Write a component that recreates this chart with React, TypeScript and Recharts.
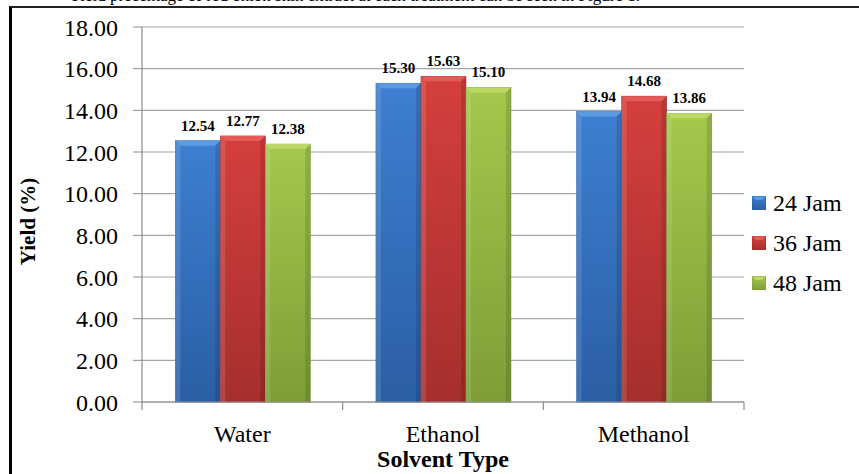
import React from 'react';
import { BarChart, Bar, XAxis, YAxis, CartesianGrid, Legend, LabelList } from 'recharts';

const solvents = ['Water', 'Ethanol', 'Methanol'];
const jam24 = [12.54, 15.3, 13.94];
const jam36 = [12.77, 15.63, 14.68];
const jam48 = [12.38, 15.1, 13.86];
const seriesNames = ['24 Jam', '36 Jam', '48 Jam'];
const yTicks = [0, 2, 4, 6, 8, 10, 12, 14, 16, 18];

const tones = [
  { light: '#5c9ae2', base: '#3d7fd1', dark: '#2b5ea4' }, // blue
  { light: '#e45a57', base: '#d43f3d', dark: '#a52f2d' }, // red
  { light: '#bbd866', base: '#a4c84c', dark: '#7d9e37' }, // green
];

const serif = '"Liberation Serif", "Times New Roman", serif';
const X_TICK_SIZE = 6;
const X_TICK_MARGIN = 17;

const data = solvents.map((name, i) => ({
  name,
  j24: jam24[i],
  j36: jam36[i],
  j48: jam48[i],
}));

function BevelBar(props: any) {
  const { x, y, width, height, tone, gid } = props;
  if (!width || !height) return null;
  const b = Math.min(5, width / 4);
  return (
    <g>
      <rect x={x} y={y} width={width} height={height} fill={`url(#${gid})`} stroke={tone.dark} strokeWidth={0.6} />
      <polygon
        points={`${x},${y} ${x + width},${y} ${x + width - b},${y + b} ${x + b},${y + b}`}
        fill={tone.light}
      />
      <polygon
        points={`${x},${y} ${x + b},${y + b} ${x + b},${y + height} ${x},${y + height}`}
        fill="#ffffff"
        fillOpacity={0.12}
      />
      <polygon
        points={`${x + width},${y} ${x + width - b},${y + b} ${x + width - b},${y + height} ${x + width},${y + height}`}
        fill="#000000"
        fillOpacity={0.12}
      />
    </g>
  );
}

const shapeFor = (i: number) => (p: any) => <BevelBar {...p} tone={tones[i]} gid={`bar-grad-${i}`} />;

// category label plus the divider ticks at the band edges
function SolventTick(props: any) {
  const { x, y, payload, index, visibleTicksCount } = props;
  const half = payload?.offset ?? 0;
  const axisY = y - X_TICK_SIZE - X_TICK_MARGIN;
  const last = index === visibleTicksCount - 1;
  return (
    <g>
      <line x1={x - half} x2={x - half} y1={axisY} y2={axisY + 8} stroke="#8c8c8c" strokeWidth={1.2} />
      {last && <line x1={x + half} x2={x + half} y1={axisY} y2={axisY + 8} stroke="#8c8c8c" strokeWidth={1.2} />}
      <text x={x} y={y} dy="0.71em" textAnchor="middle" fontSize={24} fill="#000">
        {payload.value}
      </text>
    </g>
  );
}

function LegendBox({ payload }: any) {
  return (
    <div style={{ fontFamily: serif }}>
      {(payload || []).map((item: any, i: number) => (
        <div key={item.value} style={{ display: 'flex', alignItems: 'center', height: 40 }}>
          <svg width={14} height={14} style={{ marginRight: 7 }}>
            <rect x={0} y={0} width={14} height={14} fill={`url(#bar-grad-${i})`} />
            <polygon points="0,0 14,0 10,4 4,4" fill={tones[i].light} />
            <rect x={0} y={0} width={14} height={14} fill="none" stroke={tones[i].dark} strokeWidth={0.6} />
          </svg>
          <span style={{ fontSize: 24, color: '#000' }}>{item.value}</span>
        </div>
      ))}
    </div>
  );
}

export default function App() {
  return (
    <div
      style={{
        position: 'absolute',
        left: 0,
        top: 0,
        width: 859,
        height: 474,
        overflow: 'hidden',
        background: '#fff',
        fontFamily: serif,
      }}
    >
      <div
        style={{
          position: 'absolute',
          right: 219,
          top: -14,
          fontSize: 17,
          lineHeight: '20px',
          whiteSpace: 'nowrap',
          color: '#000',
        }}
      >
        Yield precentage of red onion skin extract at each treatment can be seen in Figure 1.
      </div>
      <div
        style={{
          position: 'absolute',
          left: 9,
          top: 6,
          width: 900,
          height: 500,
          borderLeft: '3px solid #000',
          borderTop: '2px solid #222',
        }}
      />
      <div style={{ position: 'absolute', left: 0, top: 0 }}>
        <BarChart
          width={859}
          height={474}
          data={data}
          margin={{ top: 27, right: 10, left: 12, bottom: 0 }}
          barCategoryGap="16.6%"
          barGap={0}
        >
          <defs>
            {tones.map((t, i) => (
              <linearGradient key={i} id={`bar-grad-${i}`} x1="0" y1="0" x2="0" y2="1">
                <stop offset="0%" stopColor={t.base} />
                <stop offset="100%" stopColor={t.dark} />
              </linearGradient>
            ))}
          </defs>
          <CartesianGrid vertical={false} stroke="#a6a6a6" strokeWidth={1.2} />
          <XAxis
            dataKey="name"
            tickLine={false}
            tickSize={X_TICK_SIZE}
            tickMargin={X_TICK_MARGIN}
            axisLine={{ stroke: '#8c8c8c', strokeWidth: 1.2 }}
            tick={<SolventTick />}
            interval={0}
            height={72}
            label={{
              content: ({ viewBox }: any) => (
                <text
                  x={viewBox.x + viewBox.width / 2}
                  y={viewBox.y + 65}
                  textAnchor="middle"
                  fontSize={24}
                  fontWeight="bold"
                  fill="#000"
                >
                  Solvent Type
                </text>
              ),
            }}
          />
          <YAxis
            domain={[0, 18]}
            ticks={yTicks}
            tickFormatter={(v: number) => v.toFixed(2)}
            width={130}
            tickSize={9}
            tickMargin={15}
            tick={{ fontSize: 24, fill: '#000' }}
            axisLine={{ stroke: '#8c8c8c', strokeWidth: 1.2 }}
            tickLine={{ stroke: '#8c8c8c' }}
            label={{
              content: ({ viewBox }: any) => {
                const cx = viewBox.x + 16;
                const cy = viewBox.y + viewBox.height / 2 + 7;
                return (
                  <text
                    x={cx}
                    y={cy}
                    transform={`rotate(-90, ${cx}, ${cy})`}
                    textAnchor="middle"
                    dominantBaseline="central"
                    fontSize={21}
                    fontWeight="bold"
                    fill="#000"
                  >
                    Yield (%)
                  </text>
                );
              },
            }}
          />
          <Legend
            layout="horizontal"
            verticalAlign="middle"
            align="right"
            wrapperStyle={{ left: 752, top: 183, width: 105 }}
            content={<LegendBox />}
          />
          {['j24', 'j36', 'j48'].map((key, i) => (
            <Bar
              key={key}
              dataKey={key}
              name={seriesNames[i]}
              fill={tones[i].base}
              shape={shapeFor(i)}
              isAnimationActive={false}
            >
              <LabelList
                dataKey={key}
                position="top"
                offset={10}
                formatter={(v: any) => Number(v).toFixed(2)}
                style={{ fontSize: 15, fontWeight: 'bold', fill: '#000' }}
              />
            </Bar>
          ))}
        </BarChart>
      </div>
    </div>
  );
}
